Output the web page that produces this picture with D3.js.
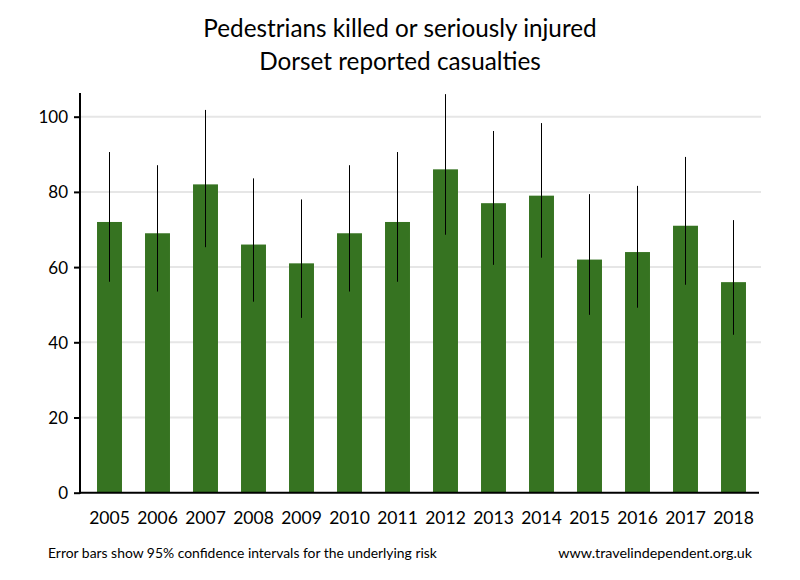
<!DOCTYPE html>
<html><head><meta charset="utf-8">
<script src="https://cdn.jsdelivr.net/npm/d3@7"></script>
<style>body{margin:0;background:#fff}svg{display:block}text{font-family:Lato,"Open Sans",sans-serif;fill:#000}</style>
</head><body><svg id="c" width="800" height="580"></svg>
<script>
const years = ["2005","2006","2007","2008","2009","2010","2011","2012","2013","2014","2015","2016","2017","2018"];
const values = [72,69,82,66,61,69,72,86,77,79,62,64,71,56];
const lower = [56.1,53.5,65.3,50.8,46.5,53.5,56.1,68.6,60.6,62.5,47.3,49.2,55.3,42.0];
const upper = [90.6,87.1,101.8,83.6,78.0,87.1,90.6,106.0,96.2,98.3,79.4,81.6,89.3,72.5];
const yTicks = [0,20,40,60,80,100];
const titleLines = ["Pedestrians killed or seriously injured","Dorset reported casualties"];
const footLeft = "Error bars show 95% confidence intervals for the underlying risk";
const footRight = "www.travelindependent.org.uk";

const svg = d3.select("#c");
const x = d3.scaleBand().domain(years).range([85.5,757.5]).paddingInner(0.48).paddingOuter(0.24);
const y = d3.scaleLinear().domain([0,100]).range([492.7,116.7]);

svg.append("g").selectAll("line").data(yTicks.filter(d=>d>0)).join("line")
  .attr("x1",81).attr("x2",761).attr("y1",d=>y(d)).attr("y2",d=>y(d))
  .attr("stroke","#e6e6e6").attr("stroke-width",2);

svg.append("g").selectAll("rect").data(values).join("rect")
  .attr("x",(d,i)=>x(years[i])).attr("width",x.bandwidth())
  .attr("y",d=>y(d)).attr("height",d=>y(0)-y(d)).attr("fill","#367321");

svg.append("g").selectAll("line").data(years).join("line")
  .attr("x1",d=>x(d)+x.bandwidth()/2).attr("x2",d=>x(d)+x.bandwidth()/2)
  .attr("y1",(d,i)=>y(upper[i])).attr("y2",(d,i)=>y(lower[i]))
  .attr("stroke","#000").attr("stroke-width",1);

const ya = svg.append("g").attr("transform","translate(80,0)")
  .call(d3.axisLeft(y).tickValues(yTicks).tickSize(6).tickPadding(6).tickFormat(d3.format("d")));
ya.select(".domain").attr("d","M0,93V493.7").attr("stroke","#000").attr("stroke-width",2);
ya.selectAll(".tick line").attr("stroke","#000").attr("stroke-width",2);
ya.selectAll("text").style("font-size","17px").attr("dy","0.35em");

const xa = svg.append("g").attr("transform","translate(0,492.7)")
  .call(d3.axisBottom(x).tickSize(0).tickPadding(19));
xa.select(".domain").attr("d","M79,0H759").attr("stroke","#000").attr("stroke-width",2);
xa.selectAll("text").style("font-size","17.5px");

svg.append("g").selectAll("text").data(titleLines).join("text")
  .attr("x",400).attr("y",(d,i)=>37+i*33).attr("text-anchor","middle")
  .style("font-size","24.3px").text(d=>d);

svg.append("text").attr("x",48).attr("y",558).style("font-size","13.9px").text(footLeft);
svg.append("text").attr("x",752).attr("y",558).attr("text-anchor","end").style("font-size","14.3px").text(footRight);
</script></body></html>
